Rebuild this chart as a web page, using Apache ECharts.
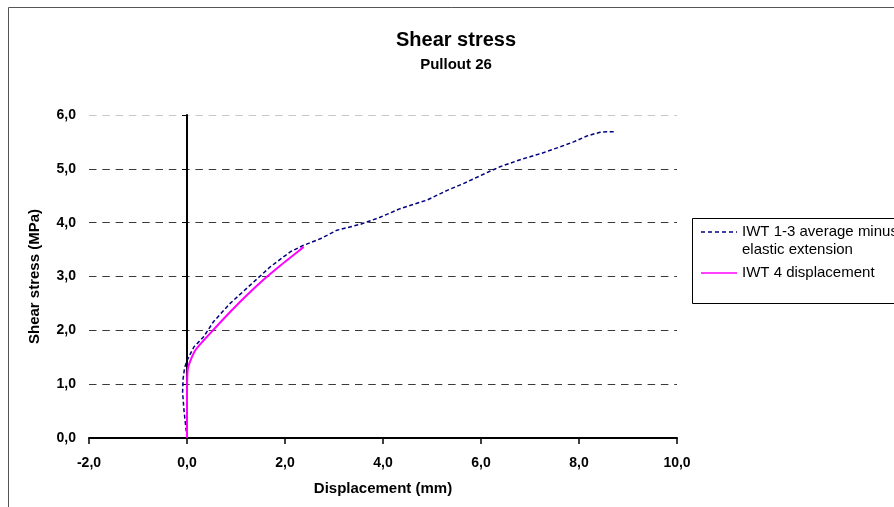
<!DOCTYPE html>
<html>
<head>
<meta charset="utf-8">
<script src="https://cdn.jsdelivr.net/npm/echarts@6/dist/echarts.min.js"></script>
<style>
html,body{margin:0;padding:0;background:#fff;}
#chart{width:894px;height:507px;}
</style>
</head>
<body>
<div id="chart"></div>
<script>
// ---- data ----
const titleText = 'Shear stress';
const subtitleText = 'Pullout 26';
const xAxisName = 'Displacement (mm)';
const yAxisName = 'Shear stress (MPa)';
const seriesNames = ['IWT 1-3 average minus elastic extension', 'IWT 4 displacement'];
const legendLines = [['IWT 1-3 average minus', 'elastic extension'], ['IWT 4 displacement']];

const blueX = [0, -0.03, -0.06, -0.09, -0.08, -0.05, 0, 0.14, 0.34, 0.54, 0.88, 1.29, 1.70, 2.11, 2.38, 2.72, 3.06, 3.54, 3.94, 4.35, 4.90, 5.31, 5.65, 6.05, 6.39, 6.80, 7.24, 7.62, 7.89, 8.16, 8.43, 8.60, 8.74];
const blueY = [0, 0.25, 0.50, 0.85, 1.10, 1.30, 1.44, 1.69, 1.88, 2.16, 2.50, 2.84, 3.18, 3.46, 3.58, 3.70, 3.86, 3.97, 4.10, 4.26, 4.42, 4.60, 4.73, 4.90, 5.04, 5.17, 5.29, 5.41, 5.50, 5.61, 5.68, 5.69, 5.69];

const magX = [0, 0, 0.02, 0.17, 0.51, 0.88, 1.22, 1.60, 1.90, 2.15, 2.38];
const magY = [0, 0.80, 1.30, 1.63, 1.98, 2.34, 2.65, 2.97, 3.20, 3.38, 3.55];

const xMin = -2, xMax = 10, xStep = 2;
const yMin = 0, yMax = 6, yStep = 1;

const fmt = v => v.toFixed(1).replace('.', ',');
const zip = (a, b) => a.map((v, i) => [v, b[i]]);

const chart = echarts.init(document.getElementById('chart'), null, {renderer: 'canvas'});
const FONT = '"Liberation Sans", Arial, sans-serif';
const navy = '#000080', magenta = '#ff00ff';

const gridColors = [];
for (let v = yMin; v <= yMax; v += yStep) gridColors.push(v === yMax ? '#c8c8c8' : '#3a3a3a');

const option = {
  backgroundColor: '#fff',
  animation: false,
  title: [
    {text: titleText, left: 451, top: 25, textAlign: 'center',
     textStyle: {fontFamily: FONT, fontSize: 20, fontWeight: 'bold', color: '#000'}},
    {text: subtitleText, left: 451, top: 52, textAlign: 'center',
     textStyle: {fontFamily: FONT, fontSize: 15, fontWeight: 'bold', color: '#000'}}
  ],
  grid: {left: 89, right: 217, top: 115, bottom: 69, containLabel: false},
  xAxis: {
    type: 'value', min: xMin, max: xMax, interval: xStep,
    name: xAxisName, nameLocation: 'middle', nameGap: 43,
    nameTextStyle: {fontFamily: FONT, fontSize: 15, fontWeight: 'bold', color: '#000'},
    axisLine: {onZero: false, lineStyle: {color: '#000', width: 2}},
    axisTick: {show: true, length: 6, lineStyle: {color: '#000', width: 1.5}},
    axisLabel: {formatter: fmt, margin: 18, fontFamily: FONT, fontSize: 14, fontWeight: 'bold', color: '#000'},
    splitLine: {show: false}
  },
  yAxis: [
    {
      type: 'value', min: yMin, max: yMax, interval: yStep,
      name: yAxisName, nameLocation: 'middle', nameGap: 47,
      nameTextStyle: {fontFamily: FONT, fontSize: 15, fontWeight: 'bold', color: '#000'},
      axisLine: {show: false, onZero: false},
      axisTick: {show: false},
      axisLabel: {formatter: fmt, margin: 13, fontFamily: FONT, fontSize: 14, fontWeight: 'bold', color: '#000'},
      splitLine: {show: true, lineStyle: {color: gridColors, type: [7.5, 5.8], width: 1}}
    },
    {
      type: 'value', min: yMin, max: yMax, interval: yStep, position: 'left',
      axisLine: {show: true, onZero: true, lineStyle: {color: '#000', width: 2}},
      axisTick: {show: true, length: 5, lineStyle: {color: '#000', width: 1}},
      axisLabel: {show: false},
      splitLine: {show: false}
    }
  ],
  legend: {show: false},
  series: [
    {name: seriesNames[0], type: 'line', data: zip(blueX, blueY), showSymbol: false, symbol: 'none',
     lineStyle: {color: navy, width: 1.5, type: [4, 2.5]}, itemStyle: {color: navy}, z: 3},
    {name: seriesNames[1], type: 'line', data: zip(magX, magY), showSymbol: false, symbol: 'none',
     smooth: 0.2, lineStyle: {color: magenta, width: 2}, itemStyle: {color: magenta}, z: 4}
  ],
  graphic: [
    {type: 'rect', shape: {x: 8.5, y: 7.5, width: 1000, height: 1000},
     style: {fill: 'none', stroke: '#555', lineWidth: 1}, silent: true, z: -1},
    {type: 'rect', shape: {x: 692.5, y: 218.5, width: 400, height: 85},
     style: {fill: '#fff', stroke: '#000', lineWidth: 1}, z: 10},
    {type: 'line', shape: {x1: 701, y1: 232, x2: 737, y2: 232},
     style: {stroke: navy, lineWidth: 1.3, lineDash: [4, 3]}, z: 11},
    {type: 'text', x: 742, y: 232, z: 11,
     style: {text: legendLines[0][0], fontFamily: FONT, fontSize: 15, fill: '#000', verticalAlign: 'middle'}},
    {type: 'text', x: 742, y: 250, z: 11,
     style: {text: legendLines[0][1], fontFamily: FONT, fontSize: 15, fill: '#000', verticalAlign: 'middle'}},
    {type: 'line', shape: {x1: 701, y1: 273, x2: 737, y2: 273},
     style: {stroke: magenta, lineWidth: 1.5}, z: 11},
    {type: 'text', x: 742, y: 273, z: 11,
     style: {text: legendLines[1][0], fontFamily: FONT, fontSize: 15, fill: '#000', verticalAlign: 'middle'}}
  ]
};
chart.setOption(option);
</script>
</body>
</html>
